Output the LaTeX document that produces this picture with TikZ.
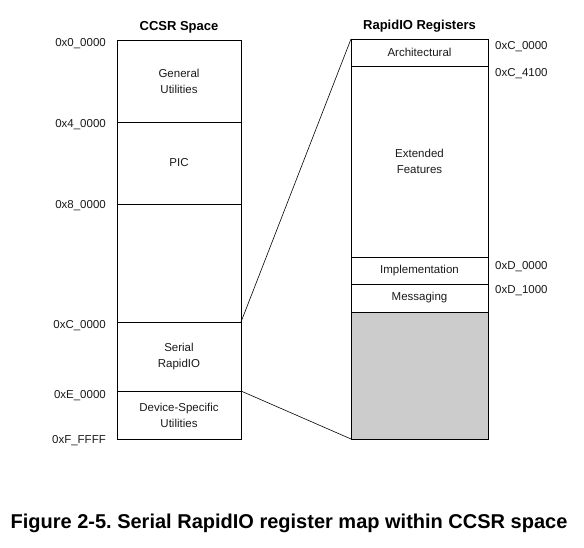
\documentclass[tikz,border=0pt]{standalone}
\usepackage{fontspec}
\setmainfont{Liberation Sans}
\usepackage{xcolor}
\definecolor{reservedgray}{HTML}{CCCCCC}
\definecolor{ink}{HTML}{1A1A1A}
\usepackage{tikz}
\usetikzlibrary{positioning}
\frenchspacing

\begin{document}
\begin{tikzpicture}[x=1pt, y=-1pt,
  cell/.style={draw, line width=0.8pt, inner sep=0pt, outer sep=0pt,
               align=center, anchor=north west, text=ink,
               font=\fontsize{11.5}{16}\selectfont},
  addr/.style={inner sep=0pt, yshift=-2pt, text=ink, font=\fontsize{11.5}{14}\selectfont},
  maptitle/.style={yshift=-2pt, font=\fontsize{13}{16}\selectfont\bfseries}]
  \useasboundingbox (0,0) rectangle (584,548);

  % CCSR space
  \node[cell, minimum width=124pt, minimum height=82pt] (genutil) at (117,40) {General\\Utilities};
  \node[cell, minimum width=124pt, minimum height=82pt] (pic) at (genutil.south west) {PIC};
  \node[cell, minimum width=124pt, minimum height=118pt] (unused) at (pic.south west) {};
  \node[cell, minimum width=124pt, minimum height=69pt] (srio) at (unused.south west) {Serial\\RapidIO};
  \node[cell, minimum width=124pt, minimum height=48pt] (devutil) at (srio.south west) {Device-Specific\\Utilities};
  \node[maptitle] (ccsrtitle) at ([yshift=15pt]genutil.north) {CCSR Space};

  \node[addr, anchor=east] (a0) at ([xshift=-11pt, yshift=-2pt]genutil.north west) {0x0\_0000};
  \node[addr, anchor=east] (a4) at ([xshift=-11pt, yshift=-1pt]pic.north west) {0x4\_0000};
  \node[addr, anchor=east] (a8) at ([xshift=-11pt]unused.north west) {0x8\_0000};
  \node[addr, anchor=east] (ac) at ([xshift=-11pt, yshift=-2pt]srio.north west) {0xC\_0000};
  \node[addr, anchor=east] (ae) at ([xshift=-11pt, yshift=-3pt]devutil.north west) {0xE\_0000};
  \node[addr, anchor=east] (af) at ([xshift=-11pt]devutil.south west) {0xF\_FFFF};

  % RapidIO registers
  \node[cell, minimum width=137pt, minimum height=27pt] (arch) at (351,39) {Architectural};
  \node[cell, minimum width=137pt, minimum height=191pt] (extfeat) at (arch.south west) {Extended\\Features};
  \node[cell, minimum width=137pt, minimum height=27pt] (impl) at (extfeat.south west) {Implementation};
  \node[cell, minimum width=137pt, minimum height=28pt] (msg) at (impl.south west) {Messaging};
  \node[cell, minimum width=137pt, minimum height=127pt, fill=reservedgray] (reserved) at (msg.south west) {};
  \node[maptitle] (riotitle) at ([yshift=15pt]arch.north) {RapidIO Registers};

  \node[addr, anchor=west] (rc0) at ([xshift=7pt, yshift=-6pt]arch.north east) {0xC\_0000};
  \node[addr, anchor=west] (rc41) at ([xshift=7pt, yshift=-6pt]extfeat.north east) {0xC\_4100};
  \node[addr, anchor=west] (rd0) at ([xshift=7pt, yshift=-8pt]impl.north east) {0xD\_0000};
  \node[addr, anchor=west] (rd1) at ([xshift=7pt, yshift=-5pt]msg.north east) {0xD\_1000};

  % zoom lines
  \draw[line width=0.6pt] (srio.north east) -- (arch.north west);
  \draw[line width=0.6pt] (devutil.north east) -- (reserved.south west);

  \node[font=\fontsize{20}{24}\selectfont\bfseries] (caption) at (289,523)
    {Figure 2-5. Serial RapidIO register map within CCSR space};
\end{tikzpicture}
\end{document}
